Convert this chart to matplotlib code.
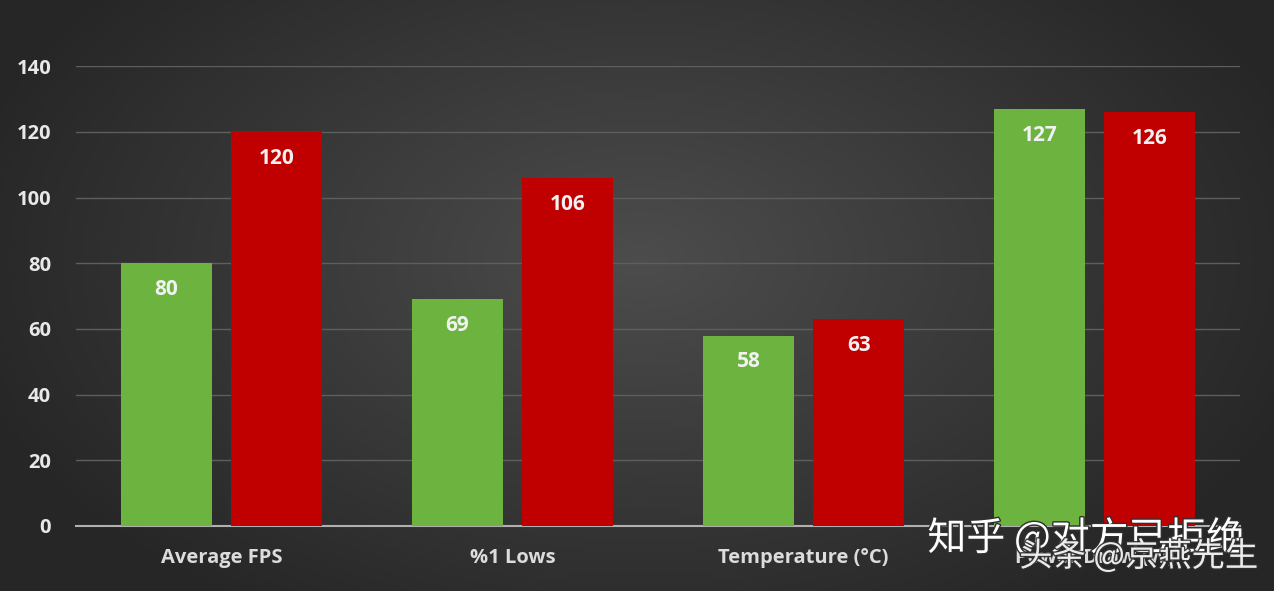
import numpy as np
import matplotlib
matplotlib.use("Agg")
import matplotlib.pyplot as plt
import matplotlib.patheffects as pe

# data
categories = ["Average FPS", "%1 Lows", "Temperature (°C)", "Power Draw (W)"]
green_vals = [80, 69, 58, 127]
red_vals = [120, 106, 63, 126]
y_ticks = [0, 20, 40, 60, 80, 100, 120, 140]

plt.rcParams['font.family'] = ['Open Sans', 'DejaVu Sans']

fig = plt.figure(figsize=(12.74, 5.91), dpi=100)

# background radial gradient
bg = fig.add_axes([0, 0, 1, 1], zorder=0)
yy, xx = np.mgrid[0:591, 0:1274]
r = np.sqrt(((xx - 640) / 700.0) ** 2 + ((yy - 260) / 420.0) ** 2)
shade = np.clip(0.30 - 0.15 * r, 0.15, 0.30)
bg.imshow(np.dstack([shade] * 3), aspect='auto', extent=[0, 1, 0, 1], origin='upper')
bg.set_axis_off()

ax = fig.add_axes([0.0597, 0.110, 0.9137, 0.778], zorder=1)
ax.patch.set_alpha(0)

x = np.arange(len(categories))
w = 0.31
off = 0.189
gbars = ax.bar(x - off, green_vals, w, color='#6db33f', zorder=3)
rbars = ax.bar(x + off, red_vals, w, color='#c00000', zorder=3)

for bars, vals in [(gbars, green_vals), (rbars, red_vals)]:
    for b, v in zip(bars, vals):
        ax.text(b.get_x() + b.get_width() / 2, v - 8, str(v), ha='center', va='center',
                color='#f2f2f2', fontsize=15, fontweight='bold', zorder=4)

ax.set_xlim(-0.5, 3.5)
ax.set_ylim(0, 140)
ax.set_yticks(y_ticks)
ax.set_xticks(x)
ax.set_xticklabels(categories)
ax.tick_params(axis='both', length=0, colors='#e8e8e8')
ax.tick_params(axis='y', pad=18, labelsize=14.5)
ax.tick_params(axis='x', pad=16, labelsize=14.5)
for lbl in ax.get_xticklabels() + ax.get_yticklabels():
    lbl.set_fontweight('bold')
for lbl in ax.get_xticklabels():
    lbl.set_color('#dcdcdc')

ax.yaxis.grid(True, color='#5e5e5e', linewidth=1, zorder=0)
ax.set_axisbelow(True)
for s in ['top', 'right', 'left']:
    ax.spines[s].set_visible(False)
ax.spines['bottom'].set_color('#b0b0b0')
ax.spines['bottom'].set_linewidth(1.5)

# watermarks
shadow = [pe.withStroke(linewidth=2, foreground='#303030')]
fig.text(0.728, 0.088, "知乎 @对方已拒绝", family=['Noto Sans CJK SC', 'DejaVu Sans'],
         color='white', fontsize=28, ha='left', va='center', zorder=5, path_effects=shadow)
fig.text(0.800, 0.058, "头条 @京燕先生", family=['Noto Sans CJK SC', 'DejaVu Sans'],
         color='white', fontsize=24, ha='left', va='center', zorder=5, alpha=0.9,
         path_effects=shadow)

fig.savefig("out.png", dpi=100)
